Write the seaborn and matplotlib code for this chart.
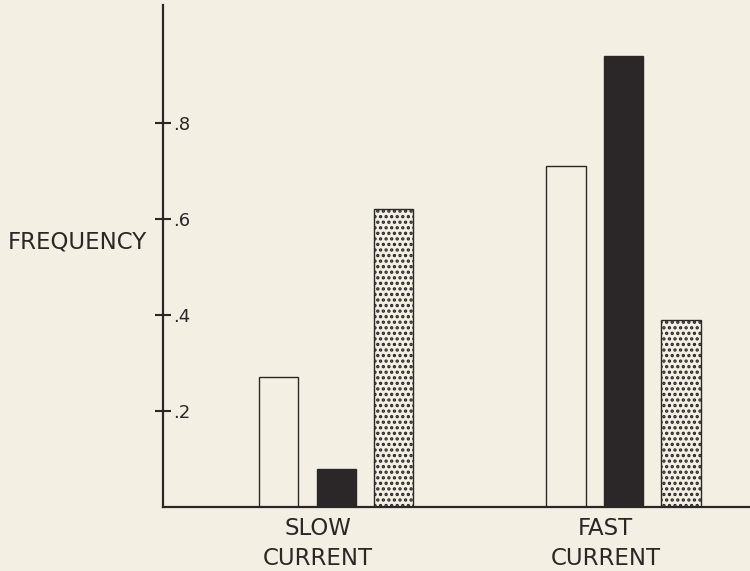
import pandas as pd
import matplotlib.pyplot as plt
import seaborn as sns
from matplotlib.transforms import ScaledTranslation

# Frequency of each group in slow vs fast current
currents = ['SLOW\nCURRENT', 'FAST\nCURRENT']
groups = ['open', 'solid', 'stippled']
open_freq = [0.27, 0.71]
solid_freq = [0.08, 0.94]
stippled_freq = [0.62, 0.39]
y_ticks = [0.2, 0.4, 0.6, 0.8]
y_tick_labels = ['.2', '.4', '.6', '.8']

bg = '#f3f0e3'
ink = '#2b2628'

sns.set_style('ticks')
plt.rcParams['font.family'] = ['DejaVu Sans']
plt.rcParams['hatch.color'] = ink
plt.rcParams['hatch.linewidth'] = 1.6

# Build a long table for seaborn
rows = []
for g, vals in zip(groups, [open_freq, solid_freq, stippled_freq]):
    for c, v in zip(currents, vals):
        rows.append({'current': c, 'group': g, 'frequency': v})
df = pd.DataFrame(rows)

fig = plt.figure(figsize=(7.5, 5.71), dpi=100, facecolor=bg)
ax = fig.add_axes([163 / 750, 64 / 571, 587 / 750, 502 / 571])
ax.set_facecolor(bg)

sns.barplot(data=df, x='current', y='frequency', hue='group', hue_order=groups,
            order=currents, width=0.6, gap=0.32, palette=[bg, ink, bg],
            legend=False, ax=ax, saturation=1)

# Style each bar series like the printed figure
styles = {'open': dict(fc=bg, hatch=None),
          'solid': dict(fc=ink, hatch=None),
          'stippled': dict(fc=bg, hatch='...')}
for g, container in zip(groups, ax.containers):
    for bar in container:
        bar.set_facecolor(styles[g]['fc'])
        bar.set_edgecolor(ink)
        bar.set_linewidth(1.0)
        if styles[g]['hatch']:
            bar.set_hatch(styles[g]['hatch'])

ax.set_xlim(-0.602, 1.44)
ax.set_ylim(0, 1.046)

sns.despine(ax=ax)
for side in ['left', 'bottom']:
    ax.spines[side].set_linewidth(1.6)
    ax.spines[side].set_color(ink)

ax.set_yticks(y_ticks)
ax.set_yticklabels(y_tick_labels, fontsize=13, color=ink)
ax.tick_params(axis='y', direction='inout', length=12, width=1.5, color=ink, pad=-13)
for lab in ax.get_yticklabels():
    lab.set_ha('left')

ax.tick_params(axis='x', length=0, pad=7, labelsize=16.5, labelcolor=ink)
for lab in ax.get_xticklabels():
    lab.set_linespacing(1.4)
    lab.set_transform(lab.get_transform() + ScaledTranslation(-0.18, 0, fig.dpi_scale_trans))

ax.set_xlabel('')
ax.set_ylabel('FREQUENCY', rotation=0, ha='left', va='center', fontsize=16.5, color=ink)
ax.yaxis.set_label_coords(-0.264, 0.528)

fig.savefig('out.png', dpi=100, facecolor=bg)
